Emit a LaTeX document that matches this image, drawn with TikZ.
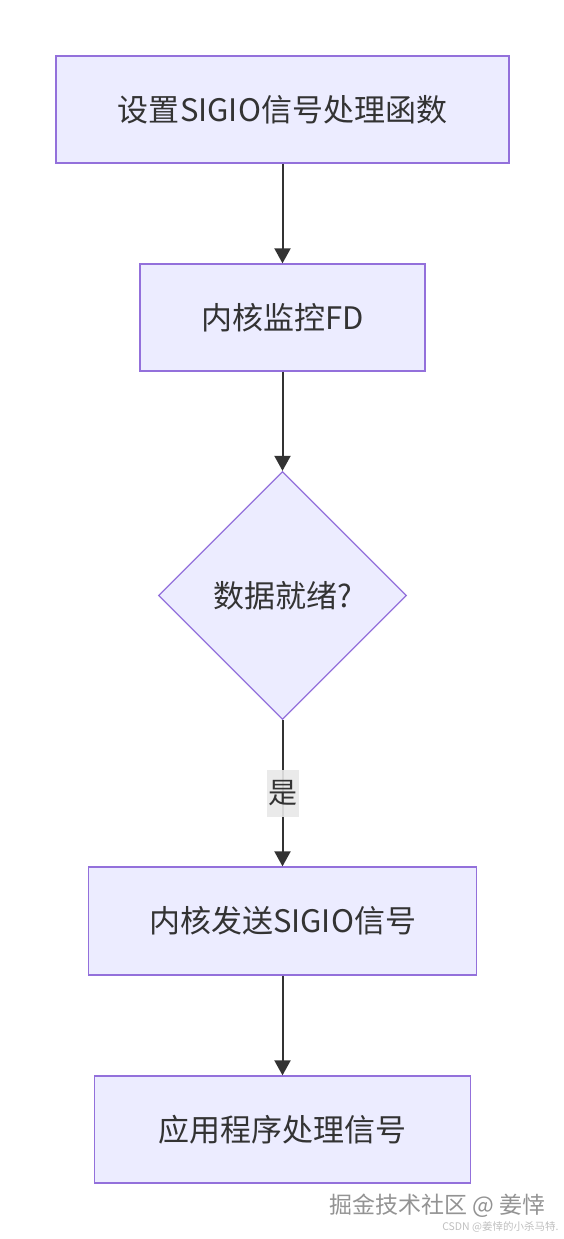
\documentclass[tikz,border=0pt]{standalone}
\usepackage{fontspec}
\setmainfont{Noto Sans CJK SC}
\newfontfamily\cjk{Noto Sans CJK SC}
\usetikzlibrary{shapes.geometric,arrows.meta}
\definecolor{boxfill}{HTML}{ECECFF}
\definecolor{boxline}{HTML}{9370DB}
\definecolor{edgecol}{HTML}{333333}
\definecolor{lblbg}{HTML}{E8E8E8}
\tikzset{
  procbox/.style={draw=boxline, fill=boxfill, line width=1.3pt, inner sep=0pt,
    font=\cjk\fontsize{31}{34}\selectfont, text=edgecol},
  decbox/.style={diamond, draw=boxline, fill=boxfill, line width=1.3pt, inner sep=0pt,
    font=\cjk\fontsize{31}{34}\selectfont, text=edgecol, aspect=1},
  flow/.style={draw=edgecol, line width=2pt, -{Triangle[length=15pt,width=16pt]}},
  lbl/.style={fill=lblbg, fill opacity=0.9, text opacity=1, text=edgecol, inner sep=0pt,
    font=\cjk\fontsize{29}{32}\selectfont, minimum width=32pt, minimum height=47pt}
}
\begin{document}
\begin{tikzpicture}[x=1pt,y=-1pt]
\useasboundingbox (0,0) rectangle (564,1239);
\node[procbox, minimum width=453pt, minimum height=107pt] (a) at (282.5,109.5) {设置SIGIO信号处理函数};
\node[procbox, minimum width=285pt, minimum height=107pt] (b) at (282.5,317.5) {内核监控FD};
\node[decbox, minimum width=248pt, minimum height=248pt] (c) at (282.5,595.5) {数据就绪?};
\node[procbox, minimum width=388pt, minimum height=108pt] (d) at (282.5,921) {内核发送SIGIO信号};
\node[procbox, minimum width=376pt, minimum height=107pt] (e) at (282.5,1129.5) {应用程序处理信号};
\draw[flow] (a) -- (b);
\draw[flow] (b) -- (c);
\draw[flow] (c) -- node[lbl, pos=0.5] (yes) {是} (d);
\draw[flow] (d) -- (e);
\node[text=gray!85, font=\cjk\fontsize{23}{26}\selectfont, anchor=west] (wm) at (326,1206) {掘金技术社区 @ 姜悻};
\node[text=gray!50, font=\cjk\fontsize{10.5}{12}\selectfont, anchor=east] (wm2) at (562,1227) {CSDN @姜悻的小杀马特.};
\end{tikzpicture}
\end{document}
